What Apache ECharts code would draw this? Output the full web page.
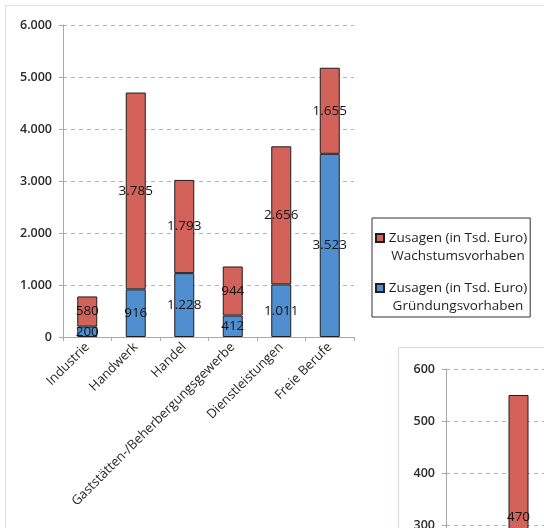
<!DOCTYPE html>
<html>
<head>
<meta charset="utf-8">
<script src="https://cdn.jsdelivr.net/npm/echarts@6/dist/echarts.min.js"></script>
<style>
  html, body { margin: 0; padding: 0; width: 544px; height: 528px; overflow: hidden; background: #fff; }
  #frame { position: absolute; left: 5px; top: 5px; width: 700px; height: 700px; border: 1px solid #dedede; }
  #main { position: absolute; left: 0; top: 0; width: 544px; height: 528px; }
  #side { position: absolute; left: 398px; top: 347px; width: 360px; height: 400px; background: #fff; border: 1px solid #d5dddd; }
</style>
</head>
<body>
<div id="frame"></div>
<div id="main"></div>
<div id="side"></div>
<script>
// Sectors
const categories = ['Industrie', 'Handwerk', 'Handel', 'Gaststätten-/Beherbergungsgewerbe', 'Dienstleistungen', 'Freie Berufe'];

// Zusagen in Tsd. Euro
const gruendung = [200, 916, 1228, 412, 1011, 3523];
const wachstum = [580, 3785, 1793, 944, 2656, 1655];

// Second panel (only the Handwerk column is shown)
const sideGruendung = [null, 80, null, null, null, null];
const sideWachstum = [null, 470, null, null, null, null];

const seriesNames = ['Zusagen (in Tsd. Euro) Wachstumsvorhaben', 'Zusagen (in Tsd. Euro) Gründungsvorhaben'];

const mainAxis = { min: 0, max: 6000, interval: 1000 };
const sideAxis = { min: 0, max: 600, interval: 100 };

const RED = '#d2625a';
const BLUE = '#4f8fd0';
const FONT = 'Open Sans';

// German thousands separator
const fmt = v => String(v).replace(/\B(?=(\d{3})+(?!\d))/g, '.');

function valueAxis(range) {
  return {
    type: 'value',
    min: range.min, max: range.max, interval: range.interval,
    axisLine: { show: true, lineStyle: { color: '#a9a9a9', width: 1 } },
    axisTick: { show: true, length: 4, lineStyle: { color: '#a9a9a9' } },
    axisLabel: { formatter: fmt, color: '#2a2a2a', fontFamily: FONT, fontSize: 12.5, fontWeight: 600, margin: 11 },
    splitLine: { show: true, lineStyle: { color: '#b4b4b4', type: [4, 4], width: 1 } }
  };
}

function barSeries(name, data, color) {
  return {
    name: name,
    type: 'bar',
    stack: 'total',
    data: data,
    barWidth: 20,
    itemStyle: { color: color, borderColor: '#1e1e1e', borderWidth: 1 },
    label: {
      show: true, position: 'inside', formatter: p => fmt(p.value),
      color: '#141414', fontFamily: FONT, fontSize: 13.5
    },
    emphasis: { disabled: true }
  };
}

const main = echarts.init(document.getElementById('main'), null, { renderer: 'canvas' });
main.setOption({
  animation: false,
  backgroundColor: 'transparent',
  grid: { left: 63, top: 25, width: 291, height: 312, containLabel: false },
  legend: {
    data: [seriesNames[0], seriesNames[1]],
    orient: 'vertical',
    left: 372, top: 218,
    padding: [10, 3, 1, 3],
    borderColor: '#333', borderWidth: 1,
    itemGap: 12,
    itemWidth: 8, itemHeight: 36,
    icon: 'path://M0,0M0,5h8v8h-8zM0,36',
    selectedMode: false,
    formatter: name => {
      const parts = name.split(') ');
      return '{a|' + parts[0] + ')}\n{a|' + parts[1] + '}';
    },
    textStyle: {
      rich: {
        a: { width: 138, align: 'center', fontFamily: FONT, fontSize: 13.5, lineHeight: 18, color: '#1e1e1e' }
      }
    }
  },
  xAxis: {
    type: 'category',
    data: categories,
    axisLine: { show: true, lineStyle: { color: '#a9a9a9' } },
    axisTick: { show: true, length: 4, lineStyle: { color: '#a9a9a9' } },
    axisLabel: { rotate: 45, interval: 0, color: '#262626', fontFamily: FONT, fontSize: 13, margin: 8 }
  },
  yAxis: valueAxis(mainAxis),
  series: [
    barSeries(seriesNames[1], gruendung, BLUE),
    barSeries(seriesNames[0], wachstum, RED)
  ]
});

const side = echarts.init(document.getElementById('side'), null, { renderer: 'canvas' });
side.setOption({
  animation: false,
  backgroundColor: '#fff',
  grid: { left: 47, top: 21, width: 290, height: 312, containLabel: false },
  xAxis: {
    type: 'category',
    data: categories,
    axisLine: { show: true, lineStyle: { color: '#a9a9a9' } },
    axisTick: { show: true, length: 4, lineStyle: { color: '#a9a9a9' } },
    axisLabel: { show: false }
  },
  yAxis: valueAxis(sideAxis),
  series: [
    barSeries(seriesNames[1], sideGruendung, BLUE),
    barSeries(seriesNames[0], sideWachstum, RED)
  ]
});
</script>
</body>
</html>
